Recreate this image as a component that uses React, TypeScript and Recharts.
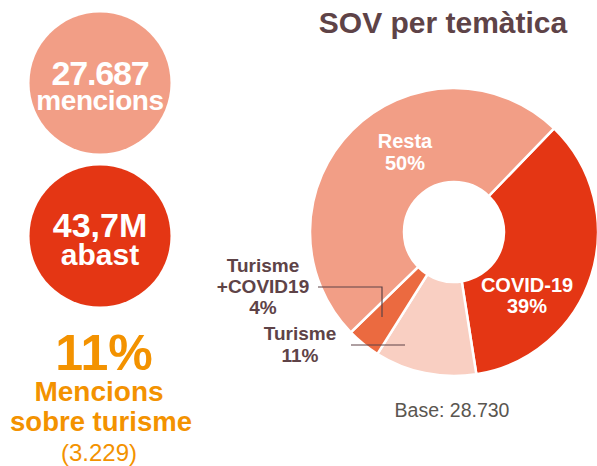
import { Cell, Pie, PieChart } from 'recharts'

const sliceNames = ['COVID-19', 'Turisme', 'Turisme +COVID19', 'Resta']
const sliceValues = [35.3, 11.4, 3.8, 49.5]
const sliceLabels = ['39%', '11%', '4%', '50%']
const sliceColors = ['#E43614', '#F9CFC2', '#EB6A40', '#F29E86']

const kpiValues = ['27.687', '43,7M']
const kpiUnits = ['mencions', 'abast']
const kpiColors = ['#F29E86', '#E43614']

const FONT = '"Liberation Sans", Arial, Helvetica, sans-serif'
const DARK = '#5E4347'
const ORANGE = '#F39200'

// label block offsets from the pie centre, per slice
const labelLayout = [
  { dx: 73, lines: [60, 81], inside: true },
  { dx: -154, lines: [108, 130], inside: false, path: 'M-103,113 L-49,113' },
  { dx: -191, lines: [40, 61, 82], inside: false, path: 'M-136,55 L-72,55 L-72,85' },
  { dx: -49, lines: [-84, -62], inside: true },
]

function splitName(name: string) {
  return name.split(' ')
}

function renderLabel(props: any) {
  const { cx, cy, index } = props
  const layout = labelLayout[index]
  const words = [...splitName(sliceNames[index]), sliceLabels[index]]
  return (
    <g key={`lbl-${index}`}>
      {layout.path && (
        <path
          d={layout.path}
          transform={`translate(${cx},${cy})`}
          stroke={DARK}
          strokeWidth={1.2}
          fill="none"
        />
      )}
      {words.map((w, i) => (
        <text
          key={i}
          x={cx + layout.dx}
          y={cy + layout.lines[i]}
          textAnchor="middle"
          fontFamily={FONT}
          fontWeight="bold"
          fontSize={layout.inside ? 20 : 19}
          fill={layout.inside ? '#fff' : DARK}
        >
          {w}
        </text>
      ))}
    </g>
  )
}

export default function App() {
  const data = sliceNames.map((name, i) => ({ name, value: sliceValues[i] }))

  return (
    <div style={{ position: 'absolute', left: 0, top: 0, width: 597, height: 466, background: '#fff' }}>
      <svg width={597} height={466} style={{ position: 'absolute', left: 0, top: 0 }}>
        {kpiValues.map((v, i) => (
          <g key={v}>
            <circle cx={100} cy={83 + i * 153} r={70.5} fill={kpiColors[i]} />
            <text
              x={100}
              y={85 + i * 152}
              textAnchor="middle"
              fontFamily={FONT}
              fontWeight="bold"
              fontSize={34}
              letterSpacing={i === 0 ? -1.2 : 0}
              fill="#fff"
            >
              {v}
            </text>
            <text
              x={100}
              y={110 + i * 155}
              textAnchor="middle"
              fontFamily={FONT}
              fontWeight="bold"
              fontSize={i === 0 ? 28 : 30}
              letterSpacing={i === 0 ? -0.4 : 0}
              fill="#fff"
            >
              {kpiUnits[i]}
            </text>
          </g>
        ))}
        <text x={104} y={370} textAnchor="middle" fontFamily={FONT} fontWeight="bold" fontSize={50} fill={ORANGE}>
          11%
        </text>
        <text x={99} y={401} textAnchor="middle" fontFamily={FONT} fontWeight="bold" fontSize={28} fill={ORANGE}>
          Mencions
        </text>
        <text x={101} y={431} textAnchor="middle" fontFamily={FONT} fontWeight="bold" fontSize={27.5} fill={ORANGE}>
          sobre turisme
        </text>
        <text x={99} y={461} textAnchor="middle" fontFamily={FONT} fontSize={24} fill={ORANGE}>
          (3.229)
        </text>
        <text x={443} y={33} textAnchor="middle" fontFamily={FONT} fontWeight="bold" fontSize={30} fill={DARK}>
          SOV per temàtica
        </text>
        <text x={452} y={417} textAnchor="middle" fontFamily={FONT} fontSize={19.5} fill="#5A5650">
          Base: 28.730
        </text>
      </svg>
      <div style={{ position: 'absolute', left: 0, top: 0 }}>
        <PieChart width={597} height={466} margin={{ top: 0, right: 0, bottom: 0, left: 0 }}>
          <Pie
            data={data}
            dataKey="value"
            nameKey="name"
            cx={454}
            cy={232}
            innerRadius={50}
            outerRadius={144}
            startAngle={46}
            endAngle={-314}
            stroke="#fff"
            strokeWidth={2.5}
            label={renderLabel}
            labelLine={false}
            isAnimationActive={false}
          >
            {data.map((d, i) => (
              <Cell key={d.name} fill={sliceColors[i]} />
            ))}
          </Pie>
        </PieChart>
      </div>
    </div>
  )
}
